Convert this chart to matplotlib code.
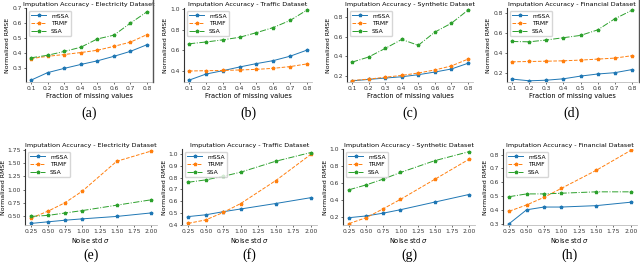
import matplotlib
matplotlib.use("Agg")
import matplotlib.pyplot as plt
from matplotlib.lines import Line2D

W, H = 640, 265
frac = [0.1, 0.2, 0.3, 0.4, 0.5, 0.6, 0.7, 0.8]
noise = [0.25, 0.5, 0.75, 1.0, 1.5, 2.0]

elec_frac_mssa = [0.222, 0.272, 0.300, 0.326, 0.350, 0.380, 0.413, 0.457]
elec_frac_trmf = [0.365, 0.380, 0.392, 0.405, 0.420, 0.446, 0.474, 0.524]
elec_frac_ssa = [0.370, 0.387, 0.412, 0.440, 0.495, 0.520, 0.600, 0.675]

traf_frac_mssa = [0.308, 0.367, 0.400, 0.436, 0.469, 0.498, 0.541, 0.600]
traf_frac_trmf = [0.397, 0.400, 0.402, 0.407, 0.413, 0.423, 0.440, 0.466]
traf_frac_ssa = [0.662, 0.679, 0.700, 0.725, 0.770, 0.820, 0.889, 0.990]

syn_frac_mssa = [0.152, 0.166, 0.180, 0.193, 0.214, 0.241, 0.272, 0.330]
syn_frac_trmf = [0.155, 0.169, 0.188, 0.207, 0.231, 0.262, 0.303, 0.372]
syn_frac_ssa = [0.341, 0.393, 0.480, 0.571, 0.512, 0.646, 0.736, 0.869]

fin_frac_mssa = [0.139, 0.122, 0.128, 0.142, 0.169, 0.190, 0.203, 0.234]
fin_frac_trmf = [0.312, 0.315, 0.318, 0.322, 0.329, 0.339, 0.349, 0.373]
fin_frac_ssa = [0.515, 0.512, 0.530, 0.553, 0.576, 0.631, 0.742, 0.827]

elec_noise_mssa = [0.370, 0.400, 0.430, 0.455, 0.500, 0.565]
elec_noise_trmf = [0.470, 0.600, 0.760, 0.975, 1.530, 1.720]
elec_noise_ssa = [0.500, 0.520, 0.565, 0.610, 0.710, 0.810]

traf_noise_mssa = [0.471, 0.486, 0.512, 0.535, 0.581, 0.630]
traf_noise_trmf = [0.414, 0.443, 0.506, 0.581, 0.774, 0.994]
traf_noise_ssa = [0.760, 0.780, 0.810, 0.845, 0.937, 1.010]

syn_noise_mssa = [0.196, 0.216, 0.249, 0.289, 0.378, 0.467]
syn_noise_trmf = [0.127, 0.196, 0.301, 0.410, 0.644, 0.879]
syn_noise_ssa = [0.523, 0.580, 0.648, 0.725, 0.863, 0.968]

fin_noise_mssa = [0.300, 0.400, 0.420, 0.420, 0.430, 0.455]
fin_noise_trmf = [0.390, 0.435, 0.490, 0.555, 0.685, 0.830]
fin_noise_ssa = [0.495, 0.515, 0.515, 0.520, 0.530, 0.530]

titles = ["Imputation Accuracy - Electricity Dataset", "Imputation Accuracy - Traffic Dataset",
          "Imputation Accuracy - Synthetic Dataset", "Imputation Accuracy - Financial Dataset"]
captions = ["(a)", "(b)", "(c)", "(d)", "(e)", "(f)", "(g)", "(h)"]

top_data = [(elec_frac_mssa, elec_frac_trmf, elec_frac_ssa),
            (traf_frac_mssa, traf_frac_trmf, traf_frac_ssa),
            (syn_frac_mssa, syn_frac_trmf, syn_frac_ssa),
            (fin_frac_mssa, fin_frac_trmf, fin_frac_ssa)]
bot_data = [(elec_noise_mssa, elec_noise_trmf, elec_noise_ssa),
            (traf_noise_mssa, traf_noise_trmf, traf_noise_ssa),
            (syn_noise_mssa, syn_noise_trmf, syn_noise_ssa),
            (fin_noise_mssa, fin_noise_trmf, fin_noise_ssa)]

top_yticks = [[0.3, 0.4, 0.5, 0.6, 0.7], [0.4, 0.6, 0.8, 1.0], [0.2, 0.4, 0.6, 0.8], [0.2, 0.4, 0.6, 0.8]]
top_ylim = [(0.21, 0.70), (0.29, 1.01), (0.14, 0.89), (0.11, 0.85)]
bot_yticks = [[0.5, 0.75, 1.0, 1.25, 1.5, 1.75], [0.4, 0.5, 0.6, 0.7, 0.8, 0.9, 1.0],
              [0.2, 0.4, 0.6, 0.8, 1.0], [0.3, 0.4, 0.5, 0.6, 0.7, 0.8]]
bot_ylim = [(0.34, 1.76), (0.40, 1.04), (0.11, 1.0), (0.29, 0.84)]
bot_fmt = ["{:.2f}", "{:.1f}", "{:.1f}", "{:.1f}"]

top_x = [(26, 152), (184, 312), (347, 473), (507, 637)]
bot_x = [(25, 157), (182, 317), (343, 475), (503, 637)]

fig = plt.figure(figsize=(W / 100, H / 100), dpi=100)
fig.patch.set_facecolor("white")

colors = ["#1f77b4", "#ff7f0e", "#2ca02c"]
styles = ["-", "--", "-."]
labels = ["mSSA", "TRMF", "SSA"]


def make_ax(x0, x1, ytop, ybot):
    return fig.add_axes([x0 / W, 1 - ybot / H, (x1 - x0) / W, (ybot - ytop) / H])


def style_ax(ax):
    for s in ["top", "right"]:
        ax.spines[s].set_visible(False)
    ax.spines["left"].set_color("#333333")
    ax.spines["bottom"].set_color("#bbbbbb")
    ax.spines["left"].set_linewidth(0.8)
    ax.spines["bottom"].set_linewidth(0.6)
    ax.tick_params(labelsize=4.3, length=1.5, width=0.5, pad=1.5, colors="#333333")


for i in range(4):
    ax = make_ax(top_x[i][0], top_x[i][1], 8, 82)
    for d, c, ls, lb in zip(top_data[i], colors, styles, labels):
        ax.plot(frac, d, color=c, ls=ls, lw=0.7, marker="*", ms=2.5, label=lb)
    ax.set_xticks(frac)
    ax.set_xticklabels(["{:.1f}".format(v) for v in frac])
    ax.set_xlim(0.07, 0.83)
    ax.set_yticks(top_yticks[i])
    ax.set_yticklabels(["{:.1f}".format(v) for v in top_yticks[i]])
    ax.set_ylim(*top_ylim[i])
    style_ax(ax)
    ax.set_title(titles[i], fontsize=4.6, pad=1.2)
    ax.set_xlabel("Fraction of missing values", fontsize=4.8, labelpad=1)
    ax.set_ylabel("Normalized RMSE", fontsize=4.5, labelpad=1.5)
    ax.legend(loc="upper left", fontsize=4.3, frameon=True, handlelength=2.5,
              borderpad=0.4, labelspacing=0.4, edgecolor="#cccccc", fancybox=True)
    cx = (top_x[i][0] + top_x[i][1]) / 2
    fig.text(cx / W, 1 - 113 / H, captions[i], fontsize=10, family="Liberation Serif",
             ha="center", va="center")

for i in range(4):
    ax = make_ax(bot_x[i][0], bot_x[i][1], 149, 225)
    for d, c, ls, lb in zip(bot_data[i], colors, styles, labels):
        ax.plot(noise, d, color=c, ls=ls, lw=0.7, marker="*", ms=2.5, label=lb)
    xt = [0.25, 0.5, 0.75, 1.0, 1.25, 1.5, 1.75, 2.0]
    ax.set_xticks(xt)
    ax.set_xticklabels(["{:.2f}".format(v) for v in xt])
    ax.set_xlim(0.16, 2.09)
    ax.set_yticks(bot_yticks[i])
    ax.set_yticklabels([bot_fmt[i].format(v) for v in bot_yticks[i]])
    ax.set_ylim(*bot_ylim[i])
    style_ax(ax)
    ax.set_title(titles[i], fontsize=4.6, pad=1.2)
    ax.set_xlabel("Noise std $\\sigma$", fontsize=4.8, labelpad=1)
    ax.set_ylabel("Normalized RMSE", fontsize=4.5, labelpad=0.8)
    ax.legend(loc="upper left", fontsize=4.3, frameon=True, handlelength=2.5,
              borderpad=0.4, labelspacing=0.4, edgecolor="#cccccc", fancybox=True)
    cx = (bot_x[i][0] + bot_x[i][1]) / 2
    fig.text(cx / W, 1 - 255 / H, captions[i + 4], fontsize=10, family="Liberation Serif",
             ha="center", va="center")

for xp in [153, 638.5]:
    fig.add_artist(Line2D([xp / W, xp / W], [1, 1 - 82 / H], color="#555555", lw=1.0,
                          transform=fig.transFigure))

fig.savefig("out.png", dpi=100, facecolor="white")
